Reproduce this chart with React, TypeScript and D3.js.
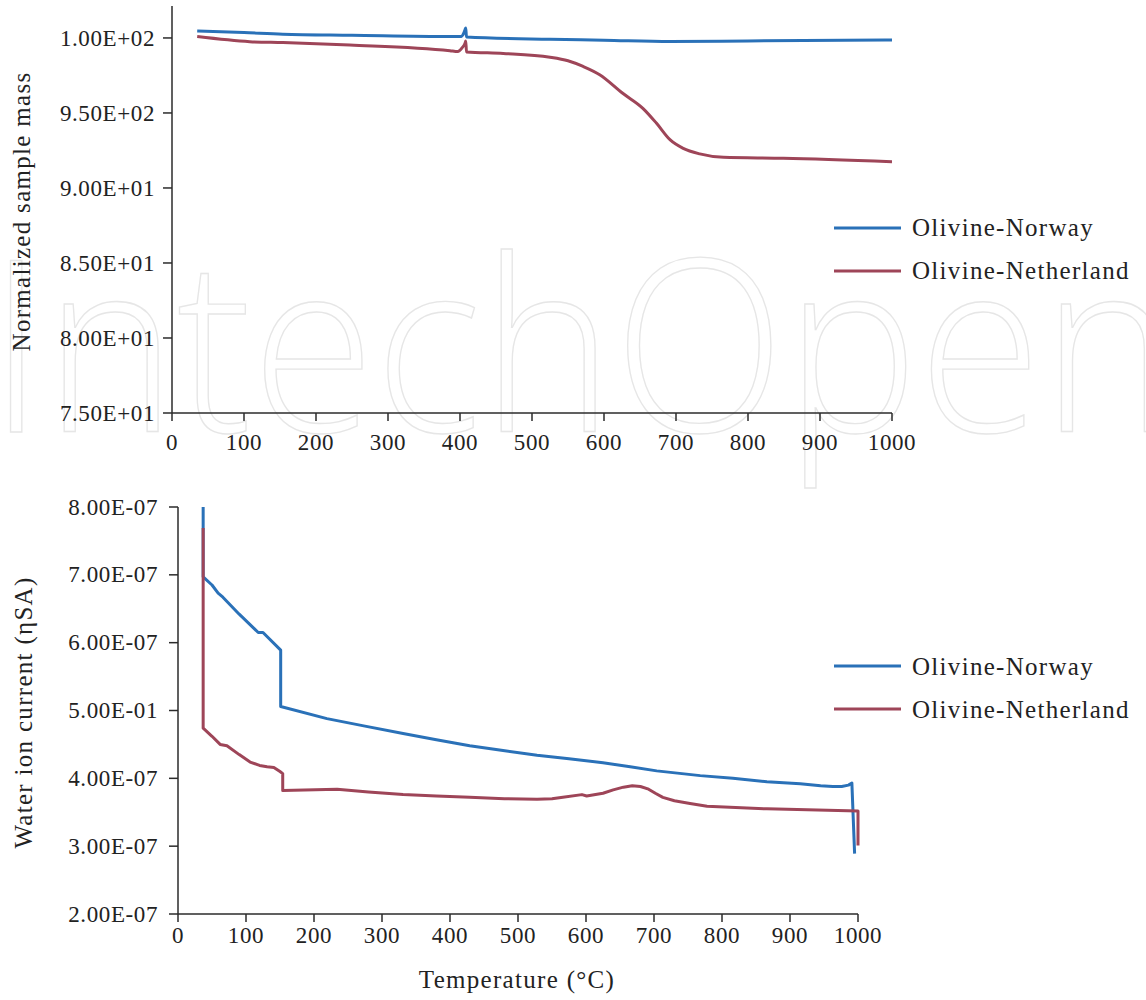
import React from "react";
import * as d3 from "d3";

// ---- data ----
const temperatureTicks = [0, 100, 200, 300, 400, 500, 600, 700, 800, 900, 1000];

const massTickValues = [75, 80, 85, 90, 95, 100];
const massTickLabels = ["7.50E+01", "8.00E+01", "8.50E+01", "9.00E+01", "9.50E+02", "1.00E+02"];

const currentTickValues = [2e-7, 3e-7, 4e-7, 5e-7, 6e-7, 7e-7, 8e-7];
const currentTickLabels = ["2.00E-07", "3.00E-07", "4.00E-07", "5.00E-01", "6.00E-07", "7.00E-07", "8.00E-07"];

const seriesNames = ["Olivine-Norway", "Olivine-Netherland"];
const seriesColors = ["#2a71b8", "#9e4558"];

// [temperature °C, normalized mass]
const massNorway: [number, number][] = [
  [35, 100.47], [100, 100.36], [154, 100.25], [250, 100.18], [386, 100.09],
  [402, 100.1], [405, 100.3], [407, 100.55], [408, 100.67], [409, 100.06],
  [525, 99.91], [600, 99.85], [692, 99.76], [800, 99.8], [1000, 99.87],
];
const massNetherland: [number, number][] = [
  [35, 100.09], [108, 99.75], [154, 99.69], [247, 99.53], [386, 99.15],
  [397, 99.09], [403, 99.35], [407, 99.65], [408, 99.8], [409, 99.07],
  [460, 98.97], [525, 98.72], [550, 98.48], [571, 98.1], [594, 97.55],
  [626, 96.31], [654, 95.31], [673, 94.31], [692, 93.2], [710, 92.64],
  [733, 92.27], [766, 92.04], [849, 91.98], [1000, 91.75],
];

// [temperature °C, water ion current]
const currentNorway: [number, number][] = [
  [37, 8.0e-7], [37, 6.97e-7], [50, 6.85e-7], [59, 6.73e-7], [66, 6.67e-7],
  [90, 6.42e-7], [118, 6.15e-7], [125, 6.15e-7], [151, 5.89e-7], [151, 5.06e-7],
  [219, 4.88e-7], [275, 4.77e-7], [331, 4.66e-7], [380, 4.57e-7], [429, 4.48e-7],
  [478, 4.41e-7], [528, 4.34e-7], [575, 4.29e-7], [625, 4.23e-7], [665, 4.17e-7],
  [704, 4.11e-7], [768, 4.04e-7], [816, 4.0e-7], [866, 3.95e-7], [915, 3.92e-7],
  [945, 3.89e-7], [963, 3.88e-7], [976, 3.88e-7], [986, 3.9e-7], [991, 3.93e-7],
  [995, 2.89e-7],
];
const currentNetherland: [number, number][] = [
  [37, 7.69e-7], [37, 4.74e-7], [50, 4.62e-7], [62, 4.5e-7], [72, 4.48e-7],
  [90, 4.35e-7], [106, 4.24e-7], [120, 4.19e-7], [131, 4.17e-7], [141, 4.16e-7],
  [150, 4.1e-7], [154, 4.07e-7], [154, 3.82e-7], [234, 3.84e-7], [280, 3.8e-7],
  [331, 3.76e-7], [380, 3.74e-7], [429, 3.72e-7], [480, 3.7e-7], [528, 3.69e-7],
  [550, 3.7e-7], [566, 3.72e-7], [594, 3.76e-7], [601, 3.74e-7], [625, 3.78e-7],
  [640, 3.83e-7], [655, 3.87e-7], [668, 3.89e-7], [680, 3.88e-7], [692, 3.84e-7],
  [702, 3.78e-7], [713, 3.72e-7], [730, 3.67e-7], [753, 3.63e-7], [778, 3.59e-7],
  [820, 3.57e-7], [866, 3.55e-7], [1000, 3.52e-7], [1000, 3.01e-7],
];

const FONT = "'Liberation Serif', 'Times New Roman', serif";
const AXIS_COLOR = "#2b2b2b";
const TEXT_COLOR = "#222";

type Panel = {
  x: d3.ScaleLinear<number, number>;
  y: d3.ScaleLinear<number, number>;
  yTicks: number[];
  yLabels: string[];
  yLabelX: number;
  xLabelY: number;
  yTitle: string;
  yTitleX: number;
  series: [number, number][][];
  curve: d3.CurveFactory;
  legendY: number;
  legendTextDy: number;
};

function ChartPanel({ p }: { p: Panel }) {
  const [x0, x1] = p.x.range();
  const [yBottom, yTop] = p.y.range();
  const line = d3
    .line<[number, number]>()
    .x((d) => p.x(d[0]))
    .y((d) => p.y(d[1]))
    .curve(p.curve);
  return (
    <g>
      {p.series.map((s, i) => (
        <path
          key={i}
          d={line(s) || ""}
          fill="none"
          stroke={seriesColors[i]}
          strokeWidth={3}
          strokeLinejoin="round"
        />
      ))}
      {/* y axis */}
      <line x1={x0} x2={x0} y1={yTop} y2={yBottom} stroke={AXIS_COLOR} strokeWidth={1.5} />
      {p.yTicks.map((t, i) => (
        <g key={t}>
          <line x1={x0 - 9} x2={x0} y1={p.y(t)} y2={p.y(t)} stroke={AXIS_COLOR} strokeWidth={1.5} />
          <text
            x={p.yLabelX}
            y={p.y(t)}
            dy="0.33em"
            textAnchor="end"
            fontSize={23}
            letterSpacing={0.6}
            fontFamily={FONT}
            fill={TEXT_COLOR}
          >
            {p.yLabels[i]}
          </text>
        </g>
      ))}
      {/* x axis */}
      <line x1={x0} x2={x1} y1={yBottom} y2={yBottom} stroke={AXIS_COLOR} strokeWidth={1.5} />
      {temperatureTicks.map((t) => (
        <g key={t}>
          <line x1={p.x(t)} x2={p.x(t)} y1={yBottom} y2={yBottom + 8} stroke={AXIS_COLOR} strokeWidth={1.5} />
          <text
            x={p.x(t)}
            y={p.xLabelY}
            textAnchor="middle"
            fontSize={23}
            letterSpacing={0.6}
            fontFamily={FONT}
            fill={TEXT_COLOR}
          >
            {t}
          </text>
        </g>
      ))}
      <text
        transform={`translate(${p.yTitleX},${(yTop + yBottom) / 2 + 2}) rotate(-90)`}
        textAnchor="middle"
        fontSize={25}
        letterSpacing={1.3}
        fontFamily={FONT}
        fill={TEXT_COLOR}
      >
        {p.yTitle}
      </text>
      {/* legend */}
      {seriesNames.map((name, i) => (
        <g key={name} transform={`translate(0,${p.legendY + i * 43})`}>
          <line x1={834} x2={901} y1={0} y2={0} stroke={seriesColors[i]} strokeWidth={3} />
          <text
            x={912}
            y={p.legendTextDy}
            fontSize={25}
            letterSpacing={1.3}
            fontFamily={FONT}
            fill={TEXT_COLOR}
          >
            {name}
          </text>
        </g>
      ))}
    </g>
  );
}

export default function App() {
  const massPanel: Panel = {
    x: d3.scaleLinear().domain([0, 1000]).range([172, 892]),
    y: d3.scaleLinear().domain([75, 102.13]).range([413, 6]),
    yTicks: massTickValues,
    yLabels: massTickLabels,
    yLabelX: 155,
    xLabelY: 450,
    yTitle: "Normalized sample mass",
    yTitleX: 30,
    series: [massNorway, massNetherland],
    curve: d3.curveMonotoneX,
    legendY: 228,
    legendTextDy: 8,
  };

  const currentPanel: Panel = {
    x: d3.scaleLinear().domain([0, 1000]).range([178, 858]),
    y: d3.scaleLinear().domain([2e-7, 8e-7]).range([914, 507]),
    yTicks: currentTickValues,
    yLabels: currentTickLabels,
    yLabelX: 158,
    xLabelY: 943,
    yTitle: "Water ion current (ηSA)",
    yTitleX: 32,
    series: [currentNorway, currentNetherland],
    curve: d3.curveLinear,
    legendY: 666,
    legendTextDy: 9,
  };

  return (
    <svg
      width={1146}
      height={1000}
      viewBox="0 0 1146 1000"
      style={{ position: "absolute", left: 0, top: 0, display: "block", background: "#fff" }}
    >
      <rect x={0} y={0} width={1146} height={1000} fill="#fff" />
      {/* publisher watermark */}
      <text
        x={-12}
        y={432}
        fontSize={240}
        fontFamily="'Open Sans', 'Noto Sans', sans-serif"
        fontWeight={300}
        textLength={1186}
        lengthAdjust="spacingAndGlyphs"
        fill="none"
        stroke="#e6e6e6"
        strokeWidth={1.4}
      >
        IntechOpen
      </text>
      <ChartPanel p={massPanel} />
      <ChartPanel p={currentPanel} />
      <text
        x={517}
        y={988}
        textAnchor="middle"
        fontSize={25}
        letterSpacing={1.3}
        fontFamily={FONT}
        fill={TEXT_COLOR}
      >
        Temperature (°C)
      </text>
    </svg>
  );
}
